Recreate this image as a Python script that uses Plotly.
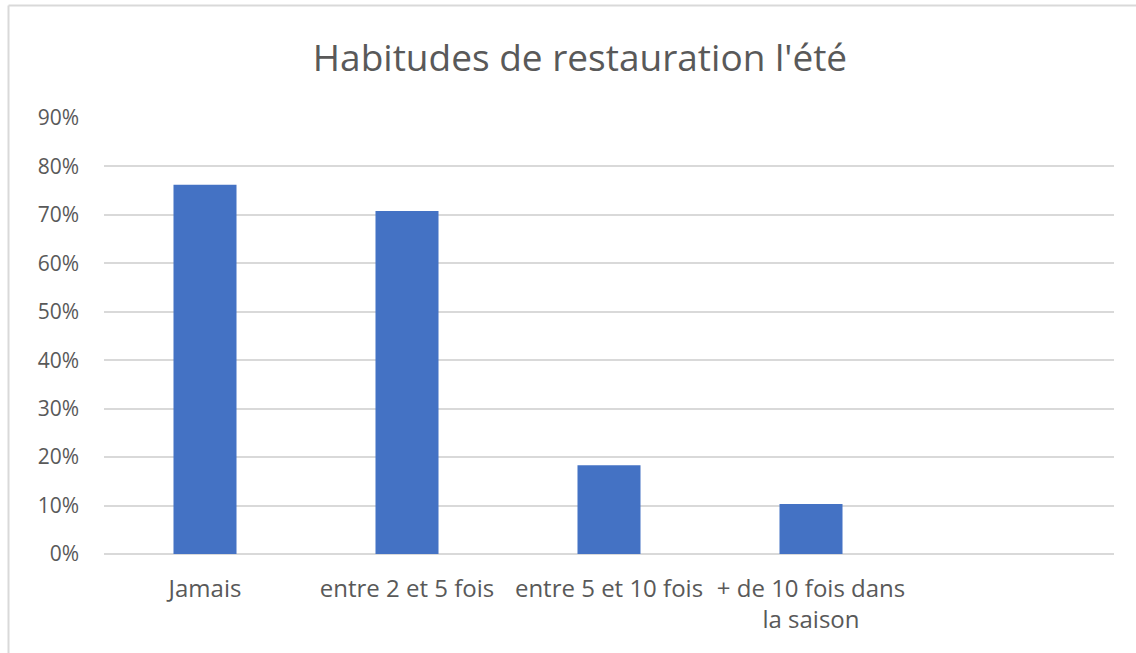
import plotly.graph_objects as go

categories = ["Jamais", "entre 2 et 5 fois", "entre 5 et 10 fois", "+ de 10 fois dans<br>la saison", " "]
values = [0.762, 0.708, 0.183, 0.103, None]
y_ticks = [0, 0.1, 0.2, 0.3, 0.4, 0.5, 0.6, 0.7, 0.8, 0.9]
title_text = "Habitudes de restauration l'été"

W, H = 1136, 653
L, R, T, B = 104, 22, 118, 99
pw, ph = W - L - R, H - T - B

def px_x(p):
    return (p - L) / pw

def px_y(p):
    return (H - B - p) / ph

fig = go.Figure()
fig.add_trace(go.Bar(x=categories, y=values, marker=dict(color="#4472C4", line=dict(width=0)),
                     hoverinfo="x+y"))

grid = "#d9d9d9"
fig.update_layout(
    width=W, height=H,
    margin=dict(l=L, r=R, t=T, b=B, autoexpand=False),
    paper_bgcolor="white", plot_bgcolor="white",
    font=dict(family="Open Sans, Noto Sans, sans-serif", color="#595959", size=20),
    bargap=0.688,
    showlegend=False,
    title=dict(text=title_text, x=580 / W, xref="container", xanchor="center",
               y=1 - 58 / H, yref="container", yanchor="middle",
               font=dict(size=37, color="#595959")),
    xaxis=dict(type="category", categoryorder="array", categoryarray=categories,
               showgrid=False, showline=False, zeroline=False, ticks="", tickangle=0,
               tickfont=dict(size=24, color="#595959"), ticklabelstandoff=18),
    yaxis=dict(range=[0, 0.9], tickvals=y_ticks, tickformat=".0%", showgrid=True,
               gridcolor=grid, gridwidth=2, zeroline=True, zerolinecolor=grid, zerolinewidth=2,
               showline=False, ticks="", tickfont=dict(size=21, color="#595959"),
               ticklabelstandoff=24),
    shapes=[
        dict(type="line", xref="paper", yref="paper", x0=px_x(8.5), x1=px_x(8.5),
             y0=px_y(660), y1=px_y(5.5), line=dict(color=grid, width=2)),
        dict(type="line", xref="paper", yref="paper", x0=px_x(8.5), x1=px_x(1140),
             y0=px_y(5.5), y1=px_y(5.5), line=dict(color=grid, width=2)),
    ],
)

fig.write_html("out.html", config={"displayModeBar": False},
               post_script="document.body.style.margin='0';document.body.style.overflow='hidden';")
